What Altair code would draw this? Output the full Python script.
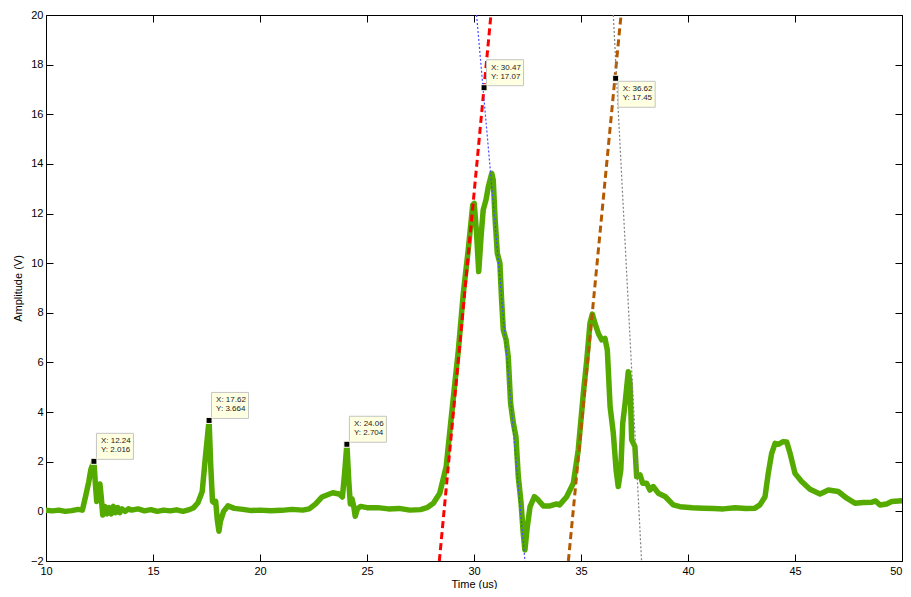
import altair as alt
import pandas as pd

# ---- measured signal (Time in us, Amplitude in V) ----
time_us = [10.0, 10.3, 10.6, 10.9, 11.2, 11.5, 11.7, 11.85, 12.0, 12.1, 12.24, 12.3, 12.37, 12.45,
           12.52, 12.58, 12.65, 12.75, 12.85, 12.95, 13.05, 13.15, 13.25, 13.35, 13.45, 13.55, 13.7,
           13.85, 14.0, 14.3, 14.6, 14.9, 15.2, 15.5, 15.8, 16.1, 16.4, 16.7, 16.9, 17.1, 17.3, 17.45,
           17.62, 17.7, 17.78, 17.85, 17.93, 18.0, 18.08, 18.15, 18.3, 18.5, 18.8, 19.2, 19.6, 20.0,
           20.5, 21.0, 21.5, 22.0, 22.3, 22.6, 22.9, 23.1, 23.4, 23.7, 23.85, 23.95, 24.06, 24.15,
           24.22, 24.3, 24.38, 24.45, 24.55, 24.7, 25.0, 25.5, 26.0, 26.5, 27.0, 27.5, 27.8, 28.1,
           28.4, 28.7, 29.0, 29.27, 29.5, 29.73, 29.94, 30.01, 30.12, 30.22, 30.33, 30.43, 30.56,
           30.67, 30.83, 30.9, 30.98, 31.09, 31.21, 31.29, 31.37, 31.5, 31.6, 31.71, 31.84, 31.96,
           32.07, 32.2, 32.3, 32.38, 32.49, 32.62, 32.82, 33.0, 33.24, 33.55, 33.86, 34.0, 34.33,
           34.64, 34.87, 35.11, 35.27, 35.42, 35.53, 35.65, 35.81, 35.97, 36.12, 36.23, 36.36, 36.51,
           36.64, 36.74, 36.86, 36.95, 37.06, 37.21, 37.29, 37.37, 37.52, 37.6, 37.76, 37.88, 38.07,
           38.22, 38.38, 38.61, 38.93, 39.31, 39.63, 40.2, 40.71, 41.2, 41.65, 42.2, 42.7, 43.13,
           43.36, 43.6, 43.75, 43.91, 44.07, 44.22, 44.45, 44.61, 44.77, 45.0, 45.31, 45.7, 46.17,
           46.56, 47.02, 47.42, 47.8, 48.2, 48.6, 48.77, 48.97, 49.28, 49.52, 50.0]
amplitude = [0.05, 0.02, 0.05, 0.0, 0.03, 0.08, 0.05, 0.6, 1.2, 1.7, 2.016, 1.2, 0.4, 0.7,
             1.1, 0.6, -0.15, 0.2, -0.1, 0.15, -0.1, 0.2, -0.05, 0.15, -0.05, 0.1, 0.0,
             0.1, 0.05, 0.1, 0.02, 0.07, 0.0, 0.05, 0.02, 0.06, 0.0, 0.07, 0.15, 0.35, 0.8, 2.2,
             3.664, 1.8, 0.4, 0.35, 0.4, -0.3, -0.8, -0.4, 0.0, 0.22, 0.12, 0.08, 0.03, 0.05,
             0.02, 0.04, 0.08, 0.05, 0.1, 0.3, 0.58, 0.65, 0.75, 0.7, 0.58, 1.5, 2.704, 1.2,
             0.3, 0.5, 0.2, -0.2, 0.1, 0.2, 0.15, 0.15, 0.1, 0.12, 0.05, 0.07, 0.15, 0.33,
             0.73, 1.8, 4.3, 6.5, 8.79, 10.53, 12.34, 12.41, 11.2, 9.66, 11.07, 12.14, 12.55,
             13.08, 13.62, 13.35, 11.87, 10.4, 10.0, 8.52, 7.31, 6.91, 6.23, 4.35, 3.55, 3.01,
             1.4, 0.33, -0.88, -1.56, -0.62, 0.19, 0.59, 0.46, 0.22, 0.22, 0.3, 0.26, 0.59,
             1.13, 2.47, 4.76, 6.1, 7.58, 7.95, 7.58, 7.17, 6.91, 6.97, 6.5, 4.22, 3.15,
             1.67, 1.0, 1.67, 3.55, 4.35, 5.63, 5.16, 2.88, 2.61, 1.4, 1.47, 1.13, 1.13,
             0.86, 1.0, 0.73, 0.6, 0.26, 0.19, 0.15, 0.13, 0.12, 0.1, 0.15, 0.12, 0.13,
             0.26, 0.59, 1.53, 2.34, 2.74, 2.7, 2.81, 2.8, 2.34, 1.53, 1.2, 0.89, 0.7,
             0.86, 0.8, 0.53, 0.33, 0.36, 0.37, 0.42, 0.26, 0.3, 0.4, 0.43]

# ---- tangent lines (endpoints in data units) ----
red_x = [28.38, 30.79]
red_y = [-2, 20]
blue_x = [30.12, 32.38]
blue_y = [20, -2]
brown_x = [34.41, 36.87]
brown_y = [-2, 20]
gray_x = [36.51, 37.83]
gray_y = [20, -2]

# ---- data tips ----
tip_x = [12.24, 17.62, 24.06, 30.47, 36.62]
tip_y = [2.016, 3.664, 2.704, 17.07, 17.45]
tip_side = ["above", "above", "above", "above", "below"]

# ---- tick values ----
x_ticks = [10, 15, 20, 25, 30, 35, 40, 45, 50]
y_ticks = [-2, 0, 2, 4, 6, 8, 10, 12, 14, 16, 18, 20]

W, H = 856, 546
FONT = "Liberation Sans"

signal = pd.DataFrame({"t": time_us, "a": amplitude})
tips = pd.DataFrame({"x": tip_x, "y": tip_y, "side": tip_side})


def seg(xs_, ys_):
    return pd.DataFrame({"x": xs_, "y": ys_})


xs = alt.Scale(domain=[10, 50], nice=False, zero=False)
ys = alt.Scale(domain=[-2, 20], nice=False, zero=False)

ax_x_main = alt.Axis(orient="bottom", values=x_ticks, ticks=False, tickSize=0, domain=False,
                     grid=False, labelFont=FONT, labelFontSize=11, labelColor="black",
                     labelPadding=4, labelFlush=False,
                     labelAlign={"condition": {"test": "datum.value >= 50", "value": "right"},
                                 "value": "center"},
                     title="Time (us)", titleFont=FONT,
                     titleFontSize=11, titleFontWeight="normal", titleColor="black",
                     titleBaseline="alphabetic", titleY=26)
ax_y_main = alt.Axis(orient="left", values=y_ticks, ticks=False, tickSize=0, domain=False,
                     grid=False, labelFont=FONT, labelFontSize=11, labelColor="black",
                     labelPadding=3,
                     labelExpr="datum.value < 0 ? '\u2212' + abs(datum.value) : '' + datum.value",
                     title="Amplitude (V)",
                     titleFont=FONT, titleFontSize=11, titleFontWeight="normal",
                     titleColor="black", titleAngle=270, titleBaseline="alphabetic",
                     titleX=-25, titleY=H / 2)


def tick_axis(orient, offset, vals):
    return alt.Axis(orient=orient, offset=offset, values=vals, labels=False, domain=False,
                    grid=False, ticks=True, tickSize=7, tickColor="black", tickWidth=1,
                    title=None)


green = alt.Chart(signal).mark_line(color="#55aa00", strokeWidth=5.5, strokeJoin="round",
                                    strokeCap="round", clip=True).encode(
    x=alt.X("t:Q", scale=xs, axis=ax_x_main),
    y=alt.Y("a:Q", scale=ys, axis=ax_y_main),
)

red = alt.Chart(seg(red_x, red_y)).mark_line(color="#ff0000", strokeWidth=3,
                                             strokeDash=[7, 4], clip=True).encode(
    x=alt.X("x:Q", scale=xs, axis=tick_axis("top", -H, x_ticks)),
    y=alt.Y("y:Q", scale=ys, axis=tick_axis("right", -W, y_ticks)),
)

blue = alt.Chart(seg(blue_x, blue_y)).mark_line(color="#4848ff", strokeWidth=1.2,
                                                strokeDash=[2, 2], clip=True).encode(
    x=alt.X("x:Q", scale=xs, axis=tick_axis("bottom", -H, x_ticks)),
    y=alt.Y("y:Q", scale=ys, axis=tick_axis("left", -W, y_ticks)),
)

brown = alt.Chart(seg(brown_x, brown_y)).mark_line(color="#b35a00", strokeWidth=3,
                                                   strokeDash=[7, 4], clip=True).encode(
    x=alt.X("x:Q", scale=xs, axis=None),
    y=alt.Y("y:Q", scale=ys, axis=None),
)

gray = alt.Chart(seg(gray_x, gray_y)).mark_line(color="#808080", strokeWidth=1.2,
                                                strokeDash=[2, 2], clip=True).encode(
    x=alt.X("x:Q", scale=xs, axis=None),
    y=alt.Y("y:Q", scale=ys, axis=None),
)

tip_base = alt.Chart(tips).transform_calculate(
    lx="'X: ' + datum.x", ly="'Y: ' + datum.y"
).encode(
    x=alt.X("x:Q", scale=xs, axis=None),
    y=alt.Y("y:Q", scale=ys, axis=None),
)
above = tip_base.transform_filter("datum.side == 'above'")
below = tip_base.transform_filter("datum.side == 'below'")

box_style = dict(width=37, height=26, fill="#ffffe1", stroke="#c4c4c4", strokeWidth=1)
text_style = dict(align="left", baseline="middle", font=FONT, fontSize=8, color="#222222", dx=7)

box_above = above.mark_rect(xOffset=21, yOffset=-15, **box_style)
box_below = below.mark_rect(xOffset=21, yOffset=16, **box_style)
txt_above_x = above.mark_text(dy=-20, **text_style).encode(text="lx:N")
txt_above_y = above.mark_text(dy=-11, **text_style).encode(text="ly:N")
txt_below_x = below.mark_text(dy=11, **text_style).encode(text="lx:N")
txt_below_y = below.mark_text(dy=20, **text_style).encode(text="ly:N")
markers = tip_base.mark_square(size=36, color="black", filled=True, opacity=1,
                               stroke="#fffff0", strokeWidth=1)

chart = alt.layer(
    green, red, blue, brown, gray,
    box_above, box_below, txt_above_x, txt_above_y, txt_below_x, txt_below_y, markers,
).resolve_axis(
    x="independent", y="independent"
).properties(
    width=W, height=H,
    autosize=alt.AutoSizeParams(type="none"),
    padding={"left": 38, "top": 7, "right": 1, "bottom": 28},
    background="white",
).configure_view(
    stroke="black", strokeWidth=1
)

chart.save("out.html", embed_options={"renderer": "svg", "actions": False})
